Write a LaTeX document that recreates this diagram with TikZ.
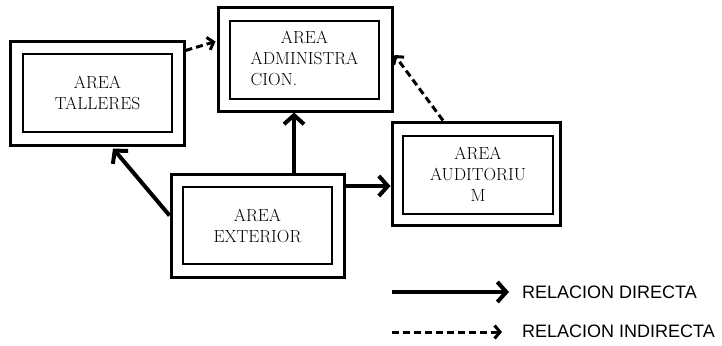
\documentclass[tikz,border=0pt]{standalone}
\usepackage{fontspec}
\newfontfamily\legfont{Liberation Sans}
\usetikzlibrary{arrows.meta,calc}
\tikzset{
  outerbox/.style={draw,line width=3pt,inner sep=0pt},
  innerbox/.style={draw,line width=2pt,inner sep=0pt,align=center,
    font=\fontsize{17.5}{21}\selectfont},
  direct/.style={line width=4pt,-{Straight Barb[length=9pt,width=20pt,line width=4pt]}},
  indirect/.style={line width=3pt,dash pattern=on 7pt off 4pt,
    -{Straight Barb[length=5.5pt,width=13pt,line width=3pt]}},
  legtext/.style={anchor=west,font=\legfont\fontsize{18}{20}\selectfont,inner sep=0pt}
}
\begin{document}
\begin{tikzpicture}[x=1pt,y=-1pt]
\useasboundingbox (0,0) rectangle (722,345);
% Talleres
\node[outerbox,minimum width=174pt,minimum height=103pt] (to) at (97,93.5) {};
\node[innerbox,minimum width=149pt,minimum height=78pt] (ti) at (97.5,93) {AREA\\TALLERES};
% Administracion
\node[outerbox,minimum width=174pt,minimum height=103pt] (ao) at (305,59.5) {};
\node[innerbox,minimum width=149pt,minimum height=78pt] (ai) at (304.5,60)
  {\begin{tabular}{@{}c@{}}AREA\\ADMINISTRA\\\multicolumn{1}{@{}l@{}}{CION.}\end{tabular}};
% Exterior
\node[outerbox,minimum width=173pt,minimum height=103pt] (eo) at (257.5,225.5) {};
\node[innerbox,minimum width=149pt,minimum height=77pt] (ei) at (257.5,225.5) {AREA\\EXTERIOR};
% Auditorium
\node[outerbox,minimum width=168pt,minimum height=103pt] (do) at (476,173.5) {};
\node[innerbox,minimum width=150pt,minimum height=78pt] (di) at (478,174.5) {AREA\\AUDITORIU\\M};
% direct relations
\coordinate (s1) at ([yshift=10pt]eo.west);
\draw[direct] (s1) -- ([xshift=16pt,yshift=-2pt]to.south);
\coordinate (s2) at ([xshift=36.5pt]eo.north);
\draw[direct] (s2) -- (s2 |- ao.south);
\coordinate (s3) at ([yshift=39.5pt]eo.east);
\draw[direct] (s3) -- (s3 -| do.west);
% indirect relations
\draw[indirect] ([yshift=-10pt]to.north east) -- ([xshift=-1pt,yshift=-35pt]ao.north west);
\draw[indirect] ([xshift=-33pt]do.north) -- ([xshift=1pt,yshift=4.5pt]ao.east);
% legend
\coordinate (l1s) at (392,292);
\coordinate (l1e) at (509,292);
\coordinate (l2s) at (392,332);
\coordinate (l2e) at (502,332);
\draw[direct] (l1s) -- (l1e);
\draw[indirect] (l2s) -- (l2e);
\node[legtext] (t1) at (522,292) {RELACION DIRECTA};
\node[legtext] (t2) at (522,331.5) {RELACION INDIRECTA};
\end{tikzpicture}
\end{document}
